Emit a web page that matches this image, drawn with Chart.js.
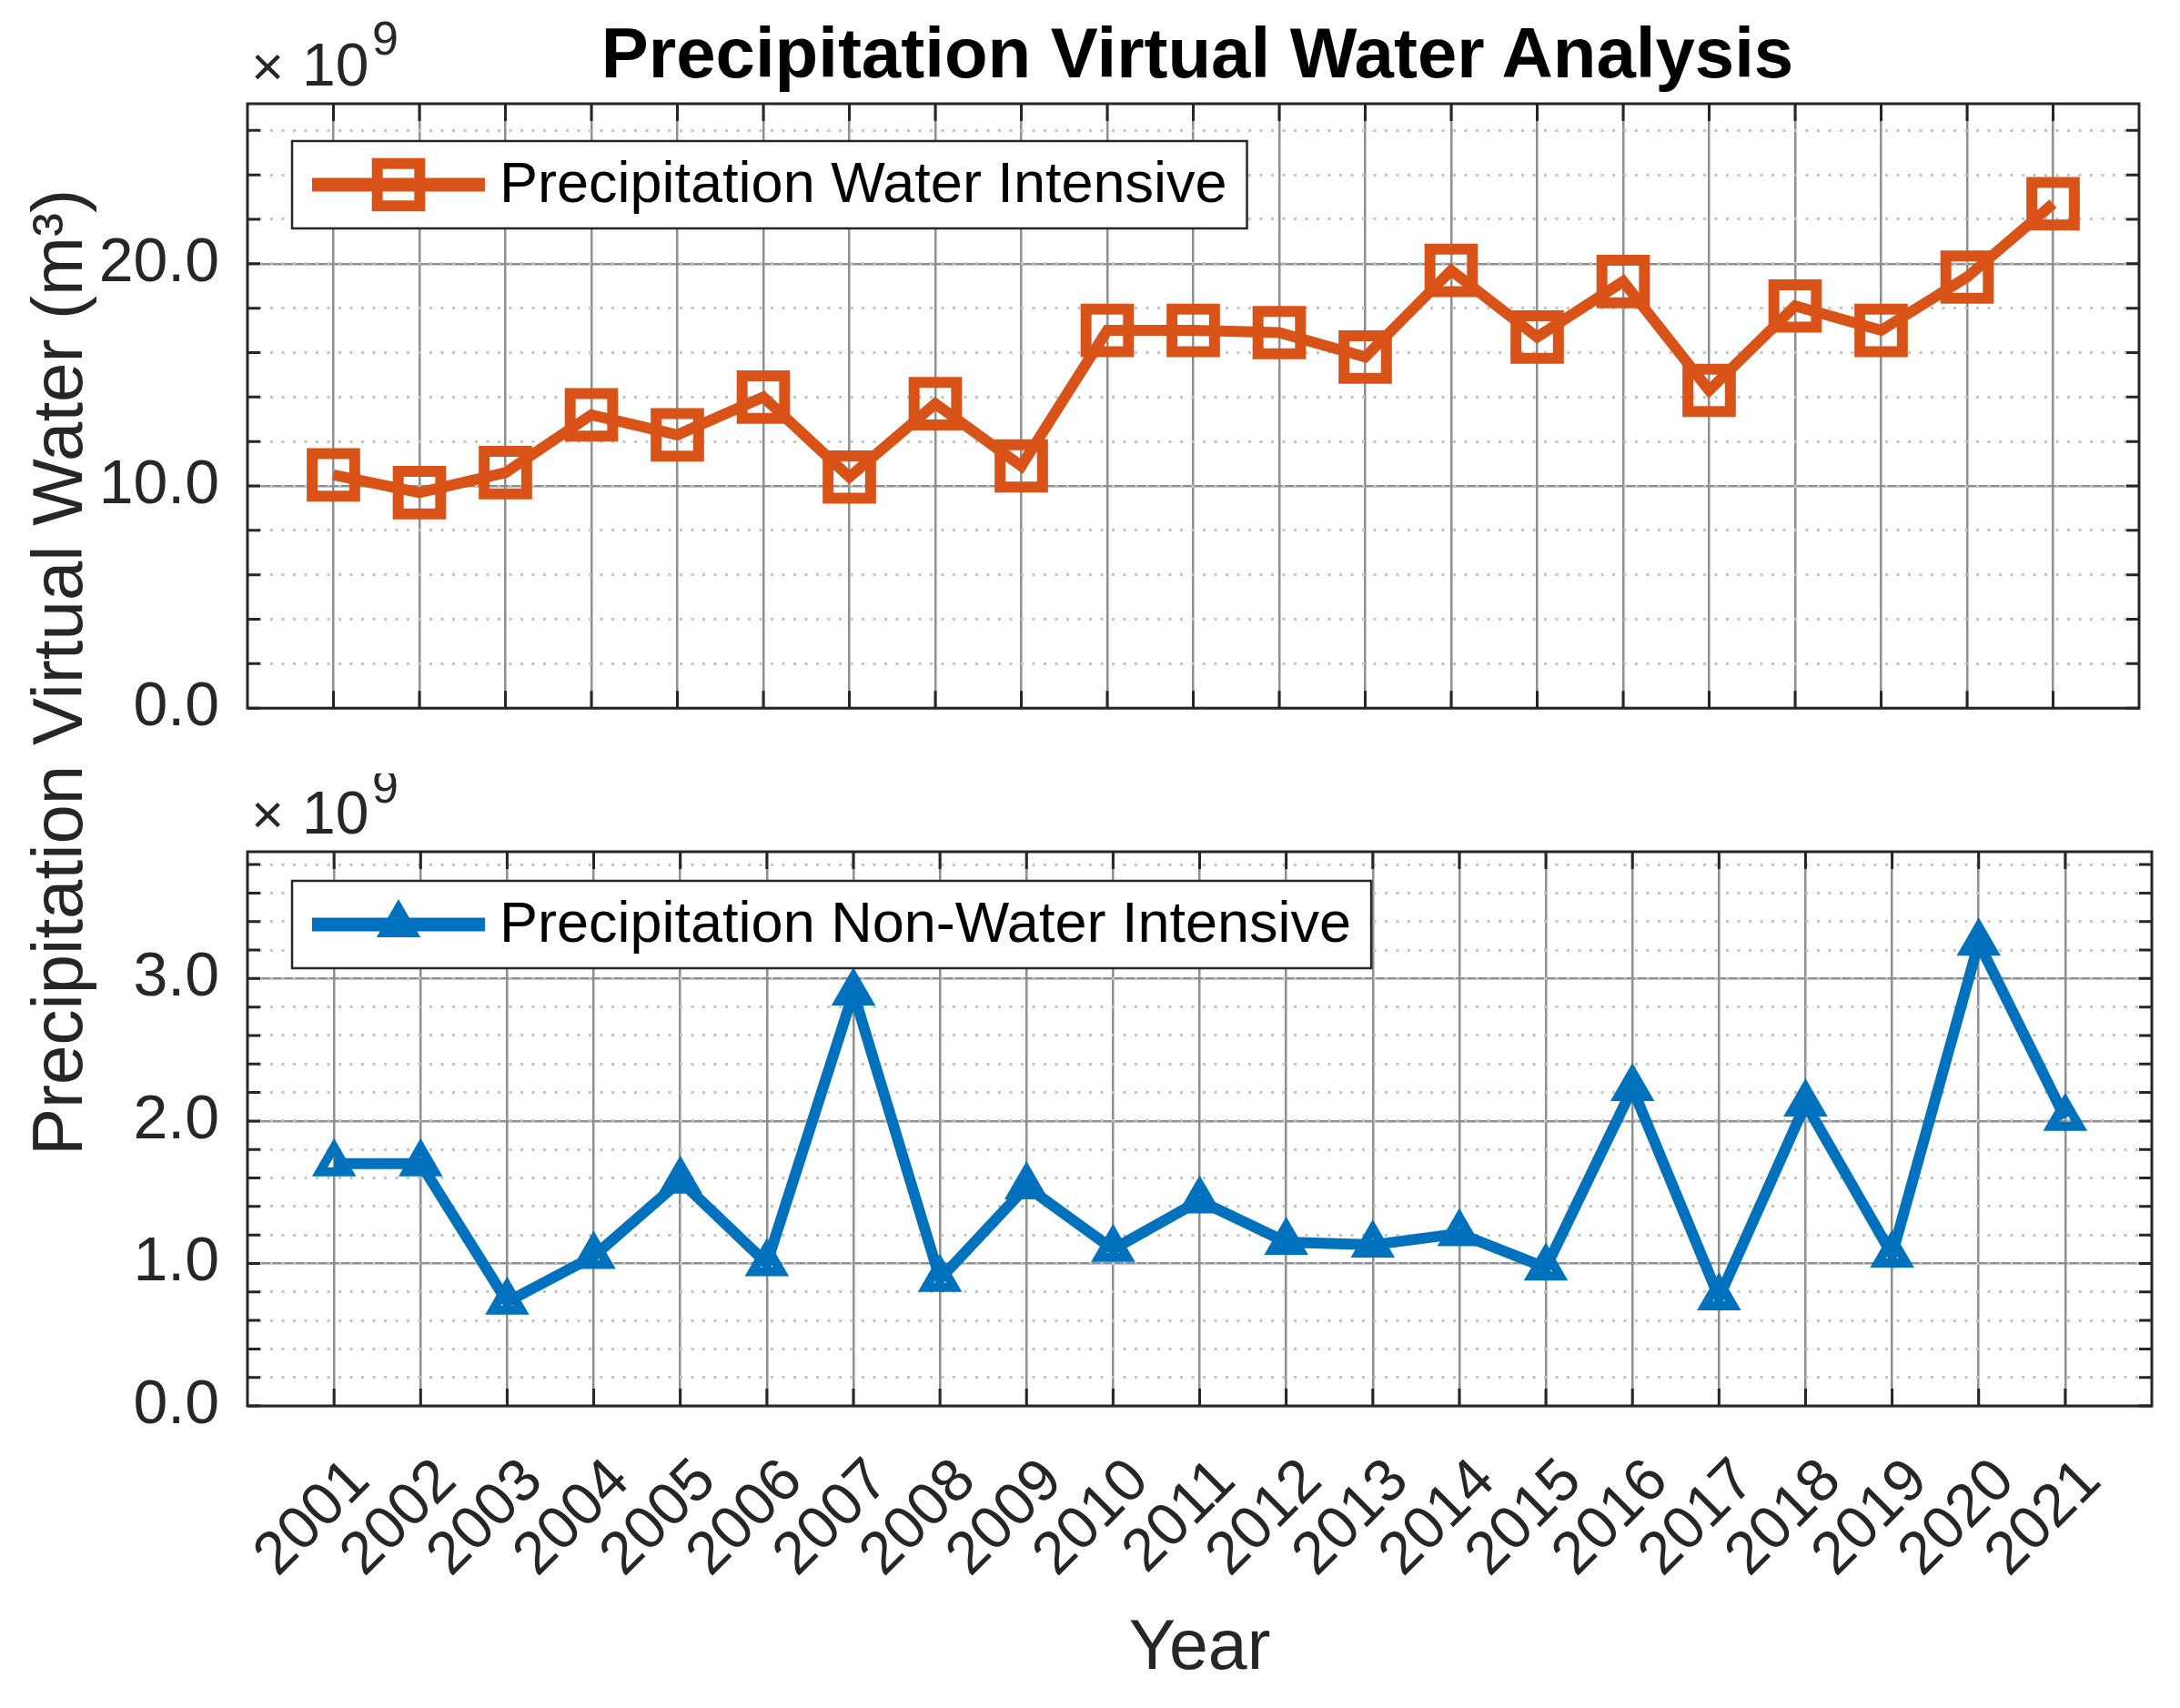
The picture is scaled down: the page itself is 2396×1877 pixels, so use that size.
<!DOCTYPE html>
<html>
<head>
<meta charset="utf-8">
<script src="https://cdn.jsdelivr.net/npm/chart.js@4.4.1/dist/chart.umd.min.js"></script>
<style>
  body { margin: 0; background: #fff; }
  #wrap { position: relative; width: 2396px; height: 1877px; background: #fff; overflow: hidden; font-family: "Liberation Sans", Arial, sans-serif; }
  canvas { position: absolute; left: 0; }
  #titulo { position: absolute; left: 1316px; top: 19px; transform: translateX(-50%); font-size: 78px; line-height: 78px; font-weight: bold; color: #000; white-space: nowrap; }
  #rotuloY { position: absolute; left: 63px; top: 739px; transform: translate(-50%, -50%) rotate(-90deg); font-size: 78px; line-height: 78px; color: #262626; white-space: nowrap; }
</style>
</head>
<body>
<div id="wrap">
  <div id="titulo">Precipitation Virtual Water Analysis</div>
  <div id="rotuloY">Precipitation Virtual Water (m³)</div>
  <canvas id="graficoTopo" width="2396" height="850" style="top:0px"></canvas>
  <canvas id="graficoBaixo" width="2396" height="1027" style="top:850px"></canvas>
</div>
<script>
// valores em unidades de 10^9 m³
const anos = [2001, 2002, 2003, 2004, 2005, 2006, 2007, 2008, 2009, 2010, 2011,
  2012, 2013, 2014, 2015, 2016, 2017, 2018, 2019, 2020, 2021];
const aguaIntensiva = [10.5, 9.7, 10.6, 13.2, 12.3, 14.0, 10.4, 13.7, 10.9, 17.0, 17.0,
  16.9, 15.8, 19.7, 16.7, 19.2, 14.3, 18.1, 17.0, 19.4, 22.7];
const naoAguaIntensiva = [1.70, 1.70, 0.73, 1.05, 1.58, 1.00, 2.90, 0.89, 1.54, 1.10, 1.44,
  1.15, 1.13, 1.21, 0.97, 2.23, 0.76, 2.12, 1.06, 3.25, 2.02];
const ticksTopo = [0, 10, 20];
const ticksBaixo = [0, 1, 2, 3];

const corTexto = '#262626';
const fonte = 'Liberation Sans, Arial, sans-serif';

// moldura + marcas internas (estilo matlab)
const pluginMoldura = {
  id: 'moldura',
  afterDraw(chart) {
    const { ctx, chartArea: a } = chart;
    const sx = chart.scales.x, sm = chart.scales.yMenor;
    ctx.save();
    ctx.strokeStyle = corTexto;
    ctx.lineWidth = 3;
    ctx.beginPath();
    sx.ticks.forEach(t => {
      const px = sx.getPixelForValue(t.value);
      ctx.moveTo(px, a.top); ctx.lineTo(px, a.top + 19);
      ctx.moveTo(px, a.bottom); ctx.lineTo(px, a.bottom - 19);
    });
    sm.ticks.forEach(t => {
      const py = sm.getPixelForValue(t.value);
      ctx.moveTo(a.left, py); ctx.lineTo(a.left + 14, py);
      ctx.moveTo(a.right, py); ctx.lineTo(a.right - 14, py);
    });
    ctx.stroke();
    ctx.strokeRect(a.left, a.top, a.right - a.left, a.bottom - a.top);
    // expoente  x10^9
    ctx.fillStyle = corTexto;
    ctx.textBaseline = 'alphabetic';
    ctx.font = '62px ' + fonte;
    ctx.fillText('\u00d7', a.left + 4, a.top - 20);
    ctx.font = '66px ' + fonte;
    ctx.fillText('10', a.left + 60, a.top - 20);
    ctx.font = '52px ' + fonte;
    ctx.fillText('9', a.left + 137, a.top - 54);
    ctx.restore();
  }
};

// legenda com caixa dentro da area do grafico
const pluginLegenda = {
  id: 'legendaCaixa',
  afterDatasetsDraw(chart, args, opts) {
    const { ctx, chartArea: a } = chart;
    const ds = chart.data.datasets[0];
    const x0 = a.left + 49, y0 = a.top + opts.topo, h = 96;
    ctx.save();
    ctx.font = '63px ' + fonte;
    const larg = 228 + ctx.measureText(ds.label).width + 22;
    ctx.fillStyle = '#fff';
    ctx.fillRect(x0, y0, larg, h);
    ctx.strokeStyle = corTexto;
    ctx.lineWidth = 2.5;
    ctx.strokeRect(x0, y0, larg, h);
    const ym = y0 + h / 2;
    ctx.strokeStyle = ds.borderColor;
    ctx.lineWidth = 15;
    ctx.beginPath();
    ctx.moveTo(x0 + 22, ym); ctx.lineTo(x0 + 212, ym);
    ctx.stroke();
    ctx.fillStyle = 'rgba(0,0,0,0)';
    ctx.lineWidth = ds.pointBorderWidth;
    Chart.helpers.drawPoint(ctx, { pointStyle: ds.pointStyle, radius: ds.pointRadius, borderWidth: ds.pointBorderWidth, rotation: 0 }, x0 + 117, ym);
    ctx.fillStyle = '#000';
    ctx.textBaseline = 'middle';
    ctx.fillText(ds.label, x0 + 228, ym + 2);
    ctx.restore();
  }
};

function opcoes(cfg) {
  return {
    responsive: false,
    animation: false,
    devicePixelRatio: 1,
    layout: { padding: { top: cfg.padTopo, right: 31, left: 0, bottom: cfg.padBaixo } },
    plugins: {
      legend: { display: false },
      tooltip: { enabled: false },
      legendaCaixa: { topo: cfg.legTopo }
    },
    scales: {
      x: {
        type: 'linear', min: 2000, max: 2022,
        afterBuildTicks: s => { s.ticks = anos.map(v => ({ value: v })); },
        afterFit: s => { s.height = cfg.alturaX; },
        grid: { color: '#8f8f8f', lineWidth: 2.5, drawTicks: false },
        border: { display: false },
        ticks: {
          display: cfg.mostrarX, autoSkip: false, maxRotation: 45, minRotation: 45,
          padding: 44, labelOffset: 29,
          color: corTexto, font: { family: fonte, size: 66 },
          callback: v => String(v)
        },
        title: {
          display: cfg.mostrarX, text: 'Year', color: corTexto,
          font: { family: fonte, size: 77 }, padding: 0
        }
      },
      y: {
        min: 0, max: cfg.maxY, position: 'left',
        afterBuildTicks: s => { s.ticks = cfg.ticks.map(v => ({ value: v })); },
        afterFit: s => { s.width = 272; },
        grid: { color: '#8f8f8f', lineWidth: 2.5, drawTicks: false },
        border: { display: false },
        ticks: {
          padding: 31, color: corTexto, font: { family: fonte, size: 68 },
          callback: v => v.toFixed(1)
        }
      },
      yMenor: {
        min: 0, max: cfg.maxY, position: 'left',
        afterFit: s => { s.width = 0; },
        grid: { color: '#c4c4c4', lineWidth: 3, drawTicks: false },
        border: { display: false, dash: [3, 9.5] },
        ticks: { display: false, stepSize: cfg.passoMenor, includeBounds: false }
      }
    }
  };
}

new Chart(document.getElementById('graficoTopo'), {
  type: 'line',
  data: {
    datasets: [{
      label: 'Precipitation Water Intensive',
      data: anos.map((a, i) => ({ x: a, y: aguaIntensiva[i] })),
      borderColor: '#D95319',
      backgroundColor: 'rgba(0,0,0,0)',
      borderWidth: 12,
      pointStyle: 'rect',
      pointRadius: 33,
      pointBorderWidth: 12,
      pointBorderColor: '#D95319',
      pointBackgroundColor: 'rgba(0,0,0,0)',
      tension: 0
    }]
  },
  options: opcoes({ padTopo: 114, padBaixo: 0, alturaX: 47, mostrarX: false, maxY: 27.2, ticks: ticksTopo, passoMenor: 2, legTopo: 41 }),
  plugins: [pluginMoldura, pluginLegenda]
});

new Chart(document.getElementById('graficoBaixo'), {
  type: 'line',
  data: {
    datasets: [{
      label: 'Precipitation Non-Water Intensive',
      data: anos.map((a, i) => ({ x: a, y: naoAguaIntensiva[i] })),
      borderColor: '#0072BD',
      backgroundColor: 'rgba(0,0,0,0)',
      borderWidth: 12,
      pointStyle: 'triangle',
      pointRadius: 18,
      pointBorderWidth: 10,
      pointBorderColor: '#0072BD',
      pointBackgroundColor: 'rgba(0,0,0,0)',
      tension: 0
    }]
  },
  options: opcoes({ padTopo: 86, padBaixo: 18, alturaX: 314, mostrarX: true, maxY: 3.89, ticks: ticksBaixo, passoMenor: 0.2, legTopo: 32 }),
  plugins: [pluginMoldura, pluginLegenda]
});
</script>
</body>
</html>
